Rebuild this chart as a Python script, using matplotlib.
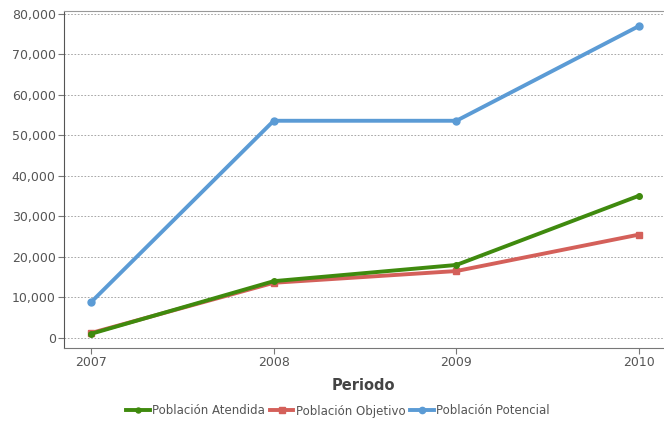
import matplotlib.pyplot as plt
from matplotlib.ticker import FuncFormatter

years = [2007, 2008, 2009, 2010]
atendida = [1000, 14000, 18000, 35100]
objetivo = [1200, 13600, 16500, 25500]
potencial = [8800, 53600, 53600, 77000]

fig = plt.figure(figsize=(6.64, 4.22), dpi=100)
ax = fig.add_axes([64 / 664, 1 - 348 / 422, 599 / 664, 337 / 422])

txt = '#555555'
ax.plot(years, atendida, color='#3f8a0e', lw=2.8, marker='o', ms=4,
        label='Población Atendida', zorder=4)
ax.plot(years, objetivo, color='#d4605a', lw=2.8, marker='s', ms=5,
        label='Población Objetivo', zorder=3)
ax.plot(years, potencial, color='#5b9bd5', lw=2.8, marker='o', ms=5,
        label='Población Potencial', zorder=3)

ax.set_xlim(2006.852, 2010.131)
ax.set_ylim(-2500, 80700)
ax.set_xticks(years)
ax.set_yticks(range(0, 80001, 10000))
ax.yaxis.set_major_formatter(FuncFormatter(lambda v, p: f'{int(v):,}'))
ax.grid(axis='y', color='#999999', ls=(0, (2, 2)), lw=0.6)
ax.set_axisbelow(True)

ax.spines['right'].set_visible(False)
ax.spines['top'].set_color('#999999')
ax.spines['left'].set_color('#555555')
ax.spines['bottom'].set_color('#777777')
ax.tick_params(colors='#777777', labelcolor=txt, labelsize=9, length=4, pad=2)

ax.set_xlabel('Periodo', fontsize=10.5, fontweight='bold', color='#444444', labelpad=6)

fig.legend(*ax.get_legend_handles_labels(), loc='center',
           bbox_to_anchor=(338 / 664, 1 - 411 / 422), ncol=3, frameon=False,
           fontsize=8.5, labelcolor=txt, handlelength=2.0, handletextpad=0.2,
           columnspacing=0.4, markerscale=0.9)

fig.savefig('out.png', dpi=100)
